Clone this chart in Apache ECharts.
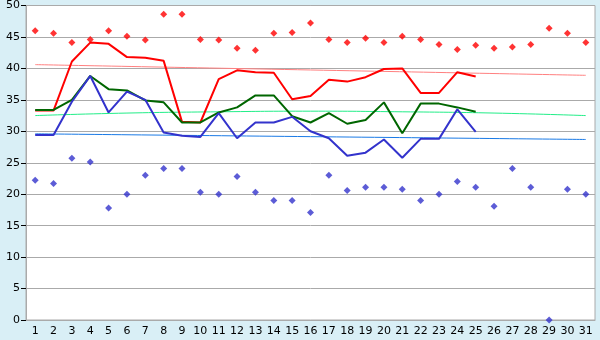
<!DOCTYPE html>
<html>
<head>
<meta charset="utf-8">
<script src="https://cdn.jsdelivr.net/npm/echarts@6/dist/echarts.min.js"></script>
<style>
html, body { margin: 0; padding: 0; background: #d9eff6; }
#myChart { width: 600px; height: 340px; }
</style>
</head>
<body>
<div id="myChart"></div>
<script>
// categories: days
let days = ['1','2','3','4','5','6','7','8','9','10','11','12','13','14','15','16','17','18','19','20','21','22','23','24','25','26','27','28','29','30','31']
let yTicks = { min: 0, max: 50, interval: 5 }

// daily max / min points
let maxPoints = [46.0, 45.6, 44.1, 44.6, 46.0, 45.1, 44.5, 48.6, 48.6, 44.6, 44.5, 43.2, 42.9, 45.6, 45.7, 47.2, 44.6, 44.1, 44.8, 44.1, 45.1, 44.6, 43.8, 43.0, 43.7, 43.2, 43.4, 43.8, 46.4, 45.6, 44.1]
let minPoints = [22.2, 21.7, 25.7, 25.1, 17.8, 20.0, 23.0, 24.1, 24.1, 20.3, 20.0, 22.8, 20.3, 19.0, 19.0, 17.1, 23.0, 20.6, 21.1, 21.1, 20.8, 19.0, 20.0, 22.0, 21.1, 18.1, 24.1, 21.1, 0, 20.8, 20.0]

// lines
let redLine = [33.3, 33.3, 41.1, 44.1, 43.9, 41.8, 41.7, 41.2, 31.5, 31.4, 38.3, 39.7, 39.4, 39.3, 35.1, 35.6, 38.2, 37.9, 38.6, 39.9, 40.0, 36.1, 36.1, 39.4, 38.7]
let greenLine = [33.4, 33.4, 35.0, 38.8, 36.7, 36.5, 34.9, 34.6, 31.4, 31.4, 33.0, 33.8, 35.7, 35.7, 32.4, 31.4, 32.9, 31.2, 31.8, 34.6, 29.7, 34.4, 34.4, 33.8, 33.1]
let blueLine = [29.4, 29.4, 34.7, 38.8, 33.0, 36.3, 35.0, 29.8, 29.3, 29.1, 32.9, 28.9, 31.4, 31.4, 32.3, 30.0, 28.9, 26.1, 26.6, 28.7, 25.8, 28.8, 28.8, 33.5, 29.9]

// trend lines (read at a few days, gaps joined)
let redTrend = [40.6, null, null, null, null, null, null, null, null, null, null, null, null, null, null, null, null, null, null, null, null, null, null, null, null, null, null, null, null, null, 38.9]
let greenTrend = [32.5, null, null, null, null, 32.9, null, null, null, null, 33.1, null, null, null, null, 33.2, null, null, null, null, 33.1, null, null, null, null, 32.9, null, null, null, null, 32.5]
let blueTrend = [29.6, null, null, null, null, null, null, null, null, null, null, null, null, null, null, null, null, null, null, null, null, null, null, null, null, null, null, null, null, null, 28.7]

let myChart = echarts.init(document.getElementById('myChart'))

let labelStyle = {
    color: '#000',
    fontSize: 11,
    fontFamily: 'DejaVu Sans'
}

function trend(data, color) {
    return {
        type: 'line',
        data: data,
        connectNulls: true,
        smooth: true,
        symbol: 'none',
        silent: true,
        lineStyle: { color: color, width: 1 }
    }
}

function line(data, color) {
    return {
        type: 'line',
        data: data,
        symbol: 'none',
        lineStyle: { color: color, width: 2 }
    }
}

function dots(data, color) {
    return {
        type: 'scatter',
        data: data,
        symbol: 'diamond',
        symbolSize: 7,
        itemStyle: { color: color }
    }
}

let option = {
    backgroundColor: '#d9eff6',
    animation: false,
    grid: {
        left: 26,
        right: 5,
        top: 5,
        bottom: 20,
        show: true,
        backgroundColor: '#fff',
        borderColor: '#aaa',
        borderWidth: 1
    },
    xAxis: {
        type: 'category',
        data: days,
        boundaryGap: true,
        axisTick: {
            alignWithLabel: true,
            length: 5,
            lineStyle: { color: '#000' }
        },
        axisLine: { lineStyle: { color: '#aaa' } },
        axisLabel: Object.assign({ margin: 6, interval: 0 }, labelStyle),
        splitLine: { show: false }
    },
    yAxis: {
        type: 'value',
        min: yTicks.min,
        max: yTicks.max,
        interval: yTicks.interval,
        axisLine: { show: true, lineStyle: { color: '#aaa' } },
        axisTick: {
            show: true,
            length: 5,
            lineStyle: { color: '#000' }
        },
        axisLabel: Object.assign({ margin: 6 }, labelStyle),
        splitLine: { lineStyle: { color: '#aaa' } }
    },
    series: [
        trend(redTrend, '#ff8080'),
        trend(greenTrend, '#22ee88'),
        trend(blueTrend, '#1a7ae6'),
        dots(maxPoints, '#ff0000'),
        dots(minPoints, '#3333cc'),
        line(redLine, '#ff0000'),
        line(greenLine, '#006600'),
        line(blueLine, '#3333cc')
    ]
}
myChart.setOption(option)
</script>
</body>
</html>
